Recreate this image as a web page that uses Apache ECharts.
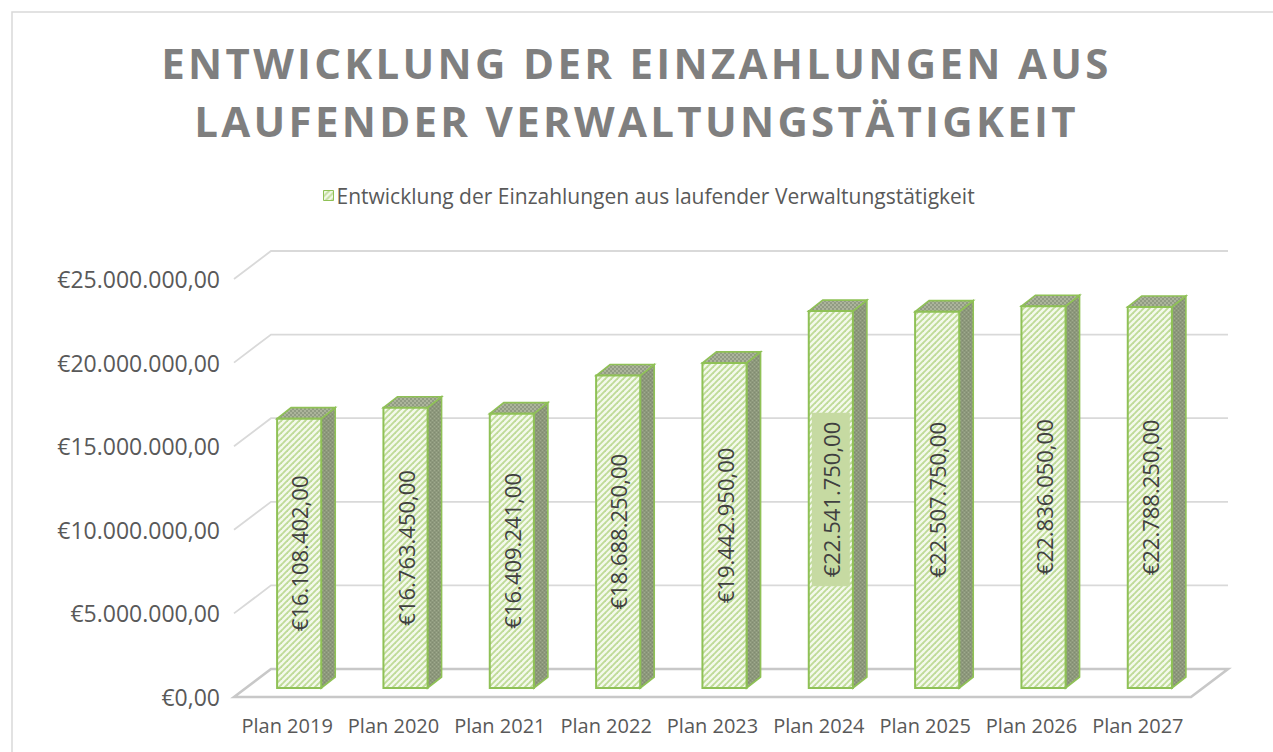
<!DOCTYPE html>
<html>
<head>
<meta charset="utf-8">
<script src="https://cdn.jsdelivr.net/npm/echarts@6/dist/echarts.min.js"></script>
<style>
  html, body { margin: 0; padding: 0; background: #fff; }
  #main { width: 1273px; height: 752px; }
</style>
</head>
<body>
<div id="main"></div>
<script>
// Daten aus dem Diagramm
var seriesName = 'Entwicklung der Einzahlungen aus laufender Verwaltungstätigkeit';
var titleLines = ['ENTWICKLUNG DER EINZAHLUNGEN AUS', 'LAUFENDER VERWALTUNGSTÄTIGKEIT'];
var categories = ['Plan 2019', 'Plan 2020', 'Plan 2021', 'Plan 2022', 'Plan 2023', 'Plan 2024', 'Plan 2025', 'Plan 2026', 'Plan 2027'];
var values = [16108402, 16763450, 16409241, 18688250, 19442950, 22541750, 22507750, 22836050, 22788250];
var yTicks = [0, 5000000, 10000000, 15000000, 20000000, 25000000];
var boxedLabel = 'Plan 2024';

// 3D-Versatz (Schrägprojektion)
var DEPTH = [37, -28];       // Vorderkante -> Rückwand
var BAR_FRONT = [12, -9];    // Vorderkante -> Säulenfront
var BAR_DEPTH = [14, -11];   // Säulentiefe
var GREEN = '#8fc156';
var TEXT = '#595959';
var FONT = '"Open Sans", "DejaVu Sans", sans-serif';

function euro(v) {
  var s = Math.round(v).toString().replace(/\B(?=(\d{3})+(?!\d))/g, '.');
  return '€' + s + ',00';
}

function makePattern(size, draw) {
  var c = document.createElement('canvas');
  c.width = c.height = size;
  draw(c.getContext('2d'), size);
  return { image: c, repeat: 'repeat' };
}

var hatch = makePattern(6, function (g, n) {
  g.fillStyle = '#f4f9ec';
  g.fillRect(0, 0, n, n);
  g.strokeStyle = '#bfdb98';
  g.lineWidth = 1.9;
  for (var k = -1; k <= 1; k++) {
    g.beginPath();
    g.moveTo(k * n - 1, n + 1);
    g.lineTo(k * n + n + 1, -1);
    g.stroke();
  }
});
var sidePat = makePattern(4, function (g, n) {
  g.fillStyle = '#8d987c';
  g.fillRect(0, 0, n, n);
  g.fillStyle = '#a0aa8e';
  g.fillRect(0, 0, 1, 1); g.fillRect(2, 2, 1, 1);
  g.fillStyle = '#808a70';
  g.fillRect(2, 0, 1, 1); g.fillRect(0, 2, 1, 1);
});
var topPat = makePattern(4, function (g, n) {
  g.fillStyle = '#acb49b';
  g.fillRect(0, 0, n, n);
  g.fillStyle = '#919b83';
  g.fillRect(0, 0, 2, 2); g.fillRect(2, 2, 2, 2);
});

function renderGrid(params, api) {
  var cs = params.coordSys;
  var v = api.value(1);
  var y = api.coord([0, v])[1];
  var xl = cs.x, xr = cs.x + cs.width;
  if (v === 0) {
    return {
      type: 'polygon',
      shape: { points: [[xl, y], [xl + DEPTH[0], y + DEPTH[1]], [xr + DEPTH[0], y + DEPTH[1]], [xr, y]] },
      style: { fill: null, stroke: '#c8c8c8', lineWidth: 2.6 }
    };
  }
  return {
    type: 'polyline',
    shape: { points: [[xl, y], [xl + DEPTH[0], y + DEPTH[1]], [xr + DEPTH[0], y + DEPTH[1]]] },
    style: { fill: null, stroke: '#d9d9d9', lineWidth: 1.8 }
  };
}

function renderBar(params, api) {
  var idx = api.value(0), v = api.value(1);
  var base = api.coord([idx, 0]);
  var top = api.coord([idx, v]);
  var bw = api.size([1, 0])[0] * 0.415;
  var x0 = base[0] - bw / 2 + BAR_FRONT[0], x1 = x0 + bw;
  var yb = base[1] + BAR_FRONT[1], yt = top[1] + BAR_FRONT[1];
  var dx = BAR_DEPTH[0], dy = BAR_DEPTH[1];
  var boxed = categories[idx] === boxedLabel;
  return {
    type: 'group',
    children: [
      {
        type: 'polygon',
        shape: { points: [[x1, yt], [x1 + dx, yt + dy], [x1 + dx, yb + dy], [x1, yb]] },
        style: { fill: sidePat, stroke: GREEN, lineWidth: 1.6 }
      },
      {
        type: 'polygon',
        shape: { points: [[x0, yt], [x0 + dx, yt + dy], [x1 + dx, yt + dy], [x1, yt]] },
        style: { fill: topPat, stroke: GREEN, lineWidth: 1.6 }
      },
      {
        type: 'rect',
        shape: { x: x0, y: yt, width: bw, height: yb - yt },
        style: { fill: hatch, stroke: GREEN, lineWidth: 2 }
      },
      {
        type: 'text',
        x: (x0 + x1) / 2,
        y: (yt + yb) / 2,
        rotation: Math.PI / 2,
        style: {
          text: euro(v),
          fill: '#404040',
          font: '22px ' + FONT,
          align: 'center',
          verticalAlign: 'middle',
          backgroundColor: boxed ? '#c6daa2' : null,
          padding: boxed ? [8, 9] : 0
        }
      }
    ]
  };
}

var chart = echarts.init(document.getElementById('main'), null, { renderer: 'svg' });

var option = {
  animation: false,
  backgroundColor: '#fff',
  title: {
    text: titleLines.join('\n'),
    left: 'center',
    top: 28,
    textStyle: {
      fontFamily: FONT,
      fontSize: 42,
      fontWeight: 'bold',
      color: '#7f7f7f',
      lineHeight: 58
    }
  },
  legend: {
    top: 180,
    left: 318,
    itemWidth: 10,
    itemHeight: 10,
    itemGap: 6,
    data: [{ name: seriesName, icon: 'rect', itemStyle: { color: hatch, borderColor: GREEN, borderWidth: 1 } }],
    textStyle: { fontFamily: FONT, fontSize: 21, color: TEXT, padding: [0, 0, 0, -2] }
  },
  graphic: [{
    type: 'polyline',
    silent: true,
    shape: { points: [[12, 752], [12, 12], [1273, 12]] },
    style: { fill: null, stroke: '#d9d9d9', lineWidth: 1.5 }
  }],
  grid: { left: 234, right: 82, top: 279, bottom: 55 },
  xAxis: {
    type: 'category',
    data: categories,
    axisLine: { show: false },
    axisTick: { show: false },
    splitLine: { show: false },
    axisLabel: { interval: 0, margin: 18, fontFamily: FONT, fontSize: 20, color: TEXT }
  },
  yAxis: {
    type: 'value',
    min: 0,
    max: 25000000,
    interval: 5000000,
    axisLine: { show: false },
    axisTick: { show: false },
    splitLine: { show: false },
    axisLabel: { margin: 14, fontFamily: FONT, fontSize: 23, color: TEXT, formatter: euro }
  },
  series: [
    {
      name: 'Gitter',
      type: 'custom',
      silent: true,
      z: 1,
      renderItem: renderGrid,
      data: yTicks.map(function (t) { return [0, t]; })
    },
    {
      name: seriesName,
      type: 'custom',
      z: 2,
      itemStyle: { color: hatch, borderColor: GREEN },
      renderItem: renderBar,
      data: values.map(function (v, i) { return [i, v]; })
    }
  ]
};

chart.setOption(option);

// Sperrsatz für den Titel (wie im Original)
function spaceTitle() {
  var texts = document.querySelectorAll('#main text');
  for (var i = 0; i < texts.length; i++) {
    if (titleLines.indexOf(texts[i].textContent) >= 0) {
      texts[i].style.letterSpacing = '3.3px';
    }
  }
}
spaceTitle();
chart.on('finished', spaceTitle);
</script>
</body>
</html>
